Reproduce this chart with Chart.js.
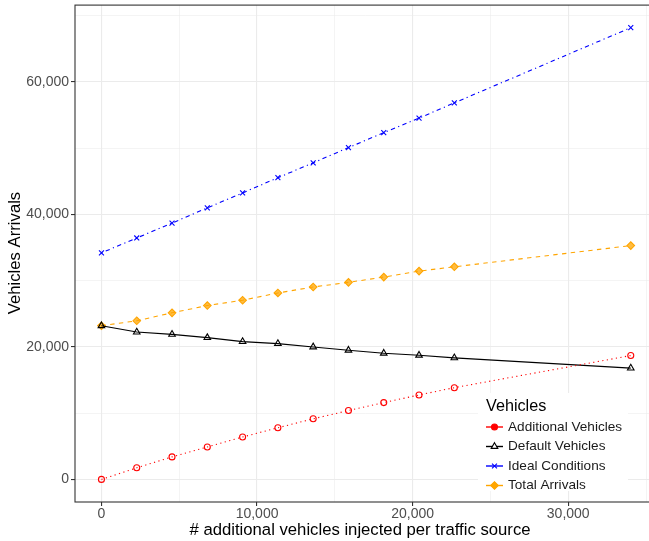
<!DOCTYPE html>
<html>
<head>
<meta charset="utf-8">
<script src="https://cdn.jsdelivr.net/npm/chart.js@4/dist/chart.umd.min.js"></script>
<style>
    html, body { margin: 0; padding: 0; background: #fff; overflow: hidden; }
    #chart { display: block; }
</style>
</head>
<body>
<canvas id="chart" width="662" height="541"></canvas>
<script>
// injected vehicles per traffic source
const injected = [0, 2268, 4536, 6804, 9072, 11340, 13608, 15876, 18144, 20412, 22680, 34020];

const additionalVehicles = [0, 1750, 3400, 4900, 6400, 7800, 9150, 10400, 11600, 12750, 13850, 18700];
const defaultVehicles = [23200, 22250, 21900, 21400, 20800, 20500, 20000, 19500, 19050, 18750, 18350, 16800];
const idealConditions = [34200, 36450, 38700, 41000, 43250, 45550, 47800, 50100, 52350, 54550, 56850, 68200];
const totalArrivals = [23200, 23950, 25150, 26250, 27050, 28150, 29050, 29750, 30550, 31450, 32100, 35300];

const xTicks = [0, 5000, 10000, 15000, 20000, 25000, 30000, 35000];
const yTicks = [0, 10000, 20000, 30000, 40000, 50000, 60000, 70000];
const xMajor = 10000;
const yMajor = 20000;

const seriesNames = ['Additional Vehicles', 'Default Vehicles', 'Ideal Conditions', 'Total Arrivals'];

const FONT = '"Liberation Sans", Arial, sans-serif';

function toPoints(values) {
    return values.map((v, i) => ({ x: injected[i], y: v }));
}

const datasets = [
    {
        label: seriesNames[0], data: toPoints(additionalVehicles),
        borderColor: '#ff0000', borderWidth: 1.1, borderDash: [1.2, 3.4],
        pointStyle: 'circle', pointRadius: 3, pointBorderColor: '#ff0000',
        pointBackgroundColor: 'rgba(255,255,255,0)', pointBorderWidth: 1.1
    },
    {
        label: seriesNames[1], data: toPoints(defaultVehicles),
        borderColor: '#000000', borderWidth: 1.1, borderDash: [],
        pointStyle: 'triangle', pointRadius: 3.8, pointBorderColor: '#000000',
        pointBackgroundColor: 'rgba(255,255,255,0)', pointBorderWidth: 1.1
    },
    {
        label: seriesNames[2], data: toPoints(idealConditions),
        borderColor: '#0000ff', borderWidth: 1.1, borderDash: [1.2, 3.4, 4.4, 3.4],
        pointStyle: 'crossRot', pointRadius: 3.5, pointBorderColor: '#0000ff',
        pointBorderWidth: 1.1
    },
    {
        label: seriesNames[3], data: toPoints(totalArrivals),
        borderColor: '#ffa500', borderWidth: 1.1, borderDash: [4.4, 4.4],
        pointStyle: 'rectRot', pointRadius: 3.8, pointBorderColor: '#ffa500',
        pointBackgroundColor: 'rgba(255,165,0,0.75)', pointBorderWidth: 1.1
    }
];

function fmt(v) {
    return v.toLocaleString('en-US');
}

// no extra room for the (empty) end labels
function noPad(scale) {
    scale.paddingTop = 0;
    scale.paddingBottom = 0;
    scale.paddingLeft = 0;
    scale.paddingRight = 0;
}

// panel border, axis titles and the inside legend
const decorations = {
    id: 'decorations',
    afterDraw(chart) {
        const ctx = chart.ctx;
        const a = chart.chartArea;
        ctx.save();
        ctx.strokeStyle = '#333333';
        ctx.lineWidth = 1.1;
        ctx.strokeRect(a.left, a.top, a.right - a.left, a.bottom - a.top);

        ctx.fillStyle = '#000000';
        ctx.font = '16.7px ' + FONT;
        ctx.textAlign = 'center';
        ctx.textBaseline = 'middle';
        ctx.fillText('# additional vehicles injected per traffic source', 360, 530);
        ctx.save();
        ctx.translate(15, 253);
        ctx.rotate(-Math.PI / 2);
        ctx.fillText('Vehicles Arrivals', 0, 0);
        ctx.restore();

        // legend
        ctx.fillStyle = '#ffffff';
        ctx.fillRect(478, 393, 150, 98);
        ctx.fillStyle = '#000000';
        ctx.textAlign = 'left';
        ctx.font = '16.2px ' + FONT;
        ctx.fillText('Vehicles', 486, 407);
        ctx.font = '13.6px ' + FONT;
        const rows = [427, 446.5, 466, 485.5];
        chart.data.datasets.forEach((ds, i) => {
            const y = rows[i];
            ctx.strokeStyle = ds.borderColor;
            ctx.lineWidth = 1.4;
            ctx.setLineDash([]);
            ctx.beginPath();
            ctx.moveTo(486, y);
            ctx.lineTo(503, y);
            ctx.stroke();
            ctx.lineWidth = 1.1;
            ctx.fillStyle = '#ffffff';
            Chart.helpers.drawPoint(ctx, {
                pointStyle: ds.pointStyle,
                radius: ds.pointRadius,
                rotation: 0,
                borderWidth: 1.1
            }, 494.5, y);
            ctx.beginPath();
            if (i === 0) {
                ctx.arc(494.5, y, 3, 0, Math.PI * 2);
                ctx.fillStyle = '#ff0000';
                ctx.fill();
            }
            if (i === 3) {
                ctx.moveTo(494.5, y - 4); ctx.lineTo(498.5, y); ctx.lineTo(494.5, y + 4); ctx.lineTo(490.5, y);
                ctx.closePath();
                ctx.fillStyle = '#ffa500';
                ctx.fill();
            }
            ctx.fillStyle = '#1a1a1a';
            ctx.fillText(ds.label, 508, y);
        });
        ctx.restore();
    }
};

new Chart(document.getElementById('chart'), {
    type: 'line',
    data: { datasets: datasets },
    options: {
        responsive: false,
        animation: false,
        layout: { padding: { left: 0, top: 4, right: 4, bottom: 0 } },
        plugins: {
            legend: { display: false },
            tooltip: { enabled: false }
        },
        scales: {
            x: {
                type: 'linear',
                min: -1700,
                max: 35700,
                afterBuildTicks: scale => { scale.ticks = xTicks.map(v => ({ value: v })); },
                afterFit: scale => { scale.height = 39; noPad(scale); },
                border: { display: false },
                grid: {
                    color: '#ebebeb',
                    lineWidth: c => (c.tick && c.tick.value % xMajor === 0) ? 1.1 : 0.55,
                    tickLength: 4,
                    tickColor: c => (c.tick && c.tick.value % xMajor === 0) ? '#333333' : 'rgba(0,0,0,0)',
                    tickWidth: 1.1
                },
                ticks: {
                    autoSkip: false,
                    maxRotation: 0,
                    padding: 0,
                    color: '#4d4d4d',
                    font: { family: FONT, size: 14 },
                    callback: v => v % xMajor === 0 ? fmt(v) : ''
                }
            },
            y: {
                type: 'linear',
                min: -3410,
                max: 71610,
                afterBuildTicks: scale => { scale.ticks = yTicks.map(v => ({ value: v })); },
                afterFit: scale => { scale.width = 75; noPad(scale); },
                border: { display: false },
                grid: {
                    color: '#ebebeb',
                    lineWidth: c => (c.tick && c.tick.value % yMajor === 0) ? 1.1 : 0.55,
                    tickLength: 4,
                    tickColor: c => (c.tick && c.tick.value % yMajor === 0) ? '#333333' : 'rgba(0,0,0,0)',
                    tickWidth: 1.1
                },
                ticks: {
                    autoSkip: false,
                    padding: 2,
                    crossAlign: 'near',
                    color: '#4d4d4d',
                    font: { family: FONT, size: 14 },
                    callback: v => v % yMajor === 0 ? fmt(v) : ''
                }
            }
        }
    },
    plugins: [decorations]
});
</script>
</body>
</html>
